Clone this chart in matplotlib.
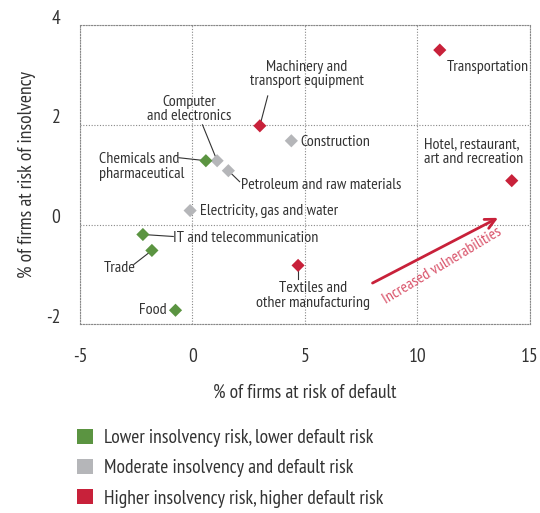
import matplotlib
matplotlib.use("Agg")
import matplotlib.pyplot as plt
import matplotlib.transforms as mtransforms
from matplotlib.patches import Patch

plt.rcParams['font.family'] = ['PT Sans Narrow', 'DejaVu Sans']
plt.rcParams['axes.unicode_minus'] = False

# sectors: default risk (x), insolvency risk (y), group
sectors = ['Transportation', 'Hotel, restaurant,\nart and recreation',
           'Machinery and\ntransport equipment', 'Textiles and\nother manufacturing',
           'Construction', 'Computer\nand electronics', 'Chemicals and\npharmaceutical',
           'Petroleum and raw materials', 'Electricity, gas and water',
           'IT and telecommunication', 'Trade', 'Food']
default_risk = [11.0, 14.2, 3.0, 4.7, 4.4, 1.1, 0.6, 1.6, -0.1, -2.2, -1.8, -0.75]
insolvency_risk = [3.5, 0.88, 1.98, -0.82, 1.68, 1.28, 1.28, 1.08, 0.28, -0.2, -0.52, -1.72]
group = ['high', 'high', 'high', 'high', 'mod', 'mod', 'low', 'mod', 'mod', 'low', 'low', 'low']

colors = {'low': '#5b9441', 'mod': '#b5b6b9', 'high': '#c8213a'}
legend_labels = {'low': 'Lower insolvency risk, lower default risk',
                 'mod': 'Moderate insolvency and default risk',
                 'high': 'Higher insolvency risk, higher default risk'}

# label placement (text position, alignment)
label_pos = [(11.3, 3.16, 'left'), (10.3, 1.46, 'left'),
             (5.1, 3.02, 'center'), (5.35, -1.42, 'center'),
             (4.8, 1.66, 'left'), (-0.15, 2.32, 'center'),
             (-4.15, 1.16, 'left'), (2.15, 0.8, 'left'),
             (0.35, 0.28, 'left'), (-0.85, -0.28, 'left'),
             (-3.95, -0.88, 'left'), (-1.15, -1.72, 'right')]
leader_ends = [None, None, (3.35, 2.58), (4.7, -1.1), None, (0.45, 2.0),
               (-0.6, 1.34), (2.1, 0.86), None, (-0.85, -0.24), (-2.6, -0.8), None]

txt = '#333333'
fig = plt.figure(figsize=(5.4, 5.13), dpi=100)
ax = fig.add_axes([0.148, 0.368, 0.833, 0.583])

ax.scatter(default_risk, insolvency_risk, marker='D', s=45,
           c=[colors[g] for g in group], zorder=3, linewidths=0)

for i, name in enumerate(sectors):
    tx, ty, ha = label_pos[i]
    ax.text(tx, ty, name, ha=ha, va='center', fontsize=11.5, color=txt,
            linespacing=1.05, zorder=4)
    if leader_ends[i] is not None:
        lx, ly = leader_ends[i]
        ax.plot([default_risk[i], lx], [insolvency_risk[i], ly], color='#333333',
                lw=0.8, zorder=2)

# arrow
ax.annotate('', xy=(13.7, 0.16), xytext=(7.9, -1.2),
            arrowprops=dict(arrowstyle='->', color='#c8213a', lw=2,
                            mutation_scale=18))
ax.text(11.1, -0.82, 'Increased vulnerabilities', color='#d9536a', fontsize=11.5,
        rotation=31, ha='center', va='center')

ax.set_xlim(-5, 15)
ax.set_ylim(-2, 4)
ax.set_xticks([-5, 0, 5, 10, 15])
ax.set_yticks([-2, 0, 2, 4])
ax.grid(True, color='#888888', linestyle=(0, (1, 1.5)), lw=0.8)
for s in ax.spines.values():
    s.set_linestyle((0, (1, 1.5)))
    s.set_color('#888888')
    s.set_linewidth(0.8)
ax.tick_params(length=0, labelsize=14, labelcolor=txt)
ax.tick_params(axis='x', pad=17)
ax.tick_params(axis='y', pad=14)
offset = mtransforms.ScaledTranslation(0, 6 / 72, fig.dpi_scale_trans)
for lab in ax.get_yticklabels():
    lab.set_transform(lab.get_transform() + offset)

ax.set_xlabel('% of firms at risk of default', fontsize=14, color=txt, labelpad=13)
ax.set_ylabel('% of firms at risk of insolvency', fontsize=14, color=txt, labelpad=7)

handles = [Patch(facecolor=colors[k], label=legend_labels[k]) for k in ['low', 'mod', 'high']]
fig.legend(handles=handles, loc='upper left', bbox_to_anchor=(0.143, 0.164),
           frameon=False, fontsize=14, handlelength=0.8, handleheight=0.8,
           handletextpad=0.6, labelspacing=0.62, labelcolor=txt,
           borderaxespad=0, borderpad=0)

fig.savefig('out.png', dpi=100)
